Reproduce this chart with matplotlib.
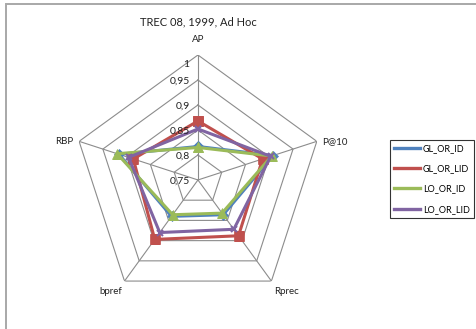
import numpy as np
import matplotlib.pyplot as plt
from matplotlib.patches import Rectangle

plt.rcParams['font.family'] = ['Lato', 'DejaVu Sans']

# Datos
categories = ["AP", "P@10", "Rprec", "bpref", "RBP"]
series_names = ["GL_OR_ID", "GL_OR_LID", "LO_OR_ID", "LO_OR_LID"]
gl_or_id = [0.817, 0.908, 0.836, 0.840, 0.916]
gl_or_lid = [0.868, 0.886, 0.888, 0.897, 0.886]
lo_or_id = [0.815, 0.905, 0.832, 0.836, 0.920]
lo_or_lid = [0.852, 0.903, 0.872, 0.880, 0.896]
ring_values = [0.75, 0.8, 0.85, 0.9, 0.95, 1.0]
ring_labels = ["0,75", "0,8", "0,85", "0,9", "0,95", "1"]

colors = ["#4F81BD", "#C0504D", "#9BBB59", "#8064A2"]
markers = ["D", "s", "^", "x"]
msizes = [5, 6.5, 7, 5]

fig = plt.figure(figsize=(4.77, 3.29), dpi=100)
ax = fig.add_axes([0.153, 0.073, 0.524, 0.760], projection="polar")
ax.set_theta_zero_location("N")
ax.set_theta_direction(-1)
ax.set_ylim(0.75, 1.0)
ax.grid(False)
ax.spines["polar"].set_visible(False)
ax.set_xticks([])
ax.set_yticks([])
ax.patch.set_alpha(0)

n = len(categories)
angles = np.linspace(0, 2 * np.pi, n, endpoint=False)
closed = np.append(angles, angles[0])

# Rejilla pentagonal
for v in ring_values[1:]:
    ax.plot(closed, [v] * (n + 1), color="#8c8c8c", lw=0.8, zorder=1)
for a in angles:
    ax.plot([a, a], [0.75, 1.0], color="#8c8c8c", lw=0.8, zorder=1)

# Series
for vals, name, c, m, ms in zip([gl_or_id, gl_or_lid, lo_or_id, lo_or_lid],
                                series_names, colors, markers, msizes):
    v = np.append(vals, vals[0])
    ax.plot(closed, v, color=c, lw=2.2, marker=m, markersize=ms,
            markeredgewidth=1.5 if m == "x" else 0.5, label=name, zorder=3)

# Etiquetas radiales
for v, lab in zip(ring_values, ring_labels):
    dy = -7 if v == 1.0 else -1
    ax.annotate(lab, xy=(0, v), xytext=(-6, dy), textcoords="offset points",
                ha="right", va="center", fontsize=7.5, color="#222222")

# Etiquetas de categorias
offsets = [(0, 8, "center", "bottom"), (4, 0, "left", "center"),
           (2, -4, "left", "top"), (-2, -4, "right", "top"),
           (-4, 0, "right", "center")]
for a, lab, (dx, dy, ha, va) in zip(angles, categories, offsets):
    ax.annotate(lab, xy=(a, 1.0), xytext=(dx, dy), textcoords="offset points",
                ha=ha, va=va, fontsize=7, color="#222222")

fig.text(0.415, 0.933, "TREC 08, 1999, Ad Hoc", ha="center", va="center",
         fontsize=8, color="#222222")

leg = fig.legend(loc="upper left", bbox_to_anchor=(0.817, 0.575), fontsize=6.5,
                 handlelength=2.9, handletextpad=0.35, labelspacing=1.25,
                 borderpad=0.45, frameon=True, fancybox=False,
                 borderaxespad=0)
leg.get_frame().set_edgecolor("black")
leg.get_frame().set_linewidth(0.8)
for h in leg.legend_handles:
    h.set_marker("")
    h.set_linewidth(2.4)

# Borde del area del grafico
fig.add_artist(Rectangle((6 / 477, -0.1), 1.0, 1 - 4 / 329 + 0.1,
                         transform=fig.transFigure, fill=False,
                         edgecolor="#a8a8a8", lw=1.4))

plt.savefig("out.png", dpi=100)
